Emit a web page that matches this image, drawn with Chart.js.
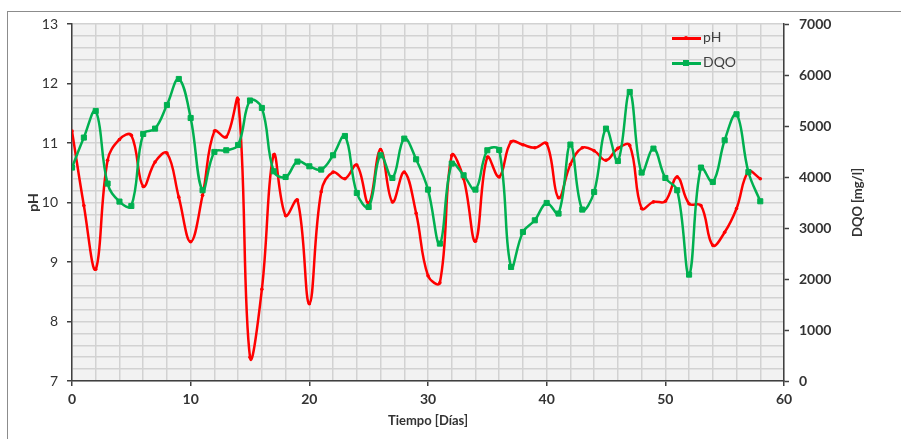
<!DOCTYPE html>
<html>
<head>
<meta charset="utf-8">
<script src="https://cdn.jsdelivr.net/npm/chart.js@4.4.1/dist/chart.umd.min.js"></script>
<style>
  html, body { margin: 0; padding: 0; background: #fff; }
  #wrap { position: relative; width: 901px; height: 439px; overflow: hidden; font-family: Lato, "Liberation Sans", sans-serif; }
  #frame { position: absolute; left: 7px; top: 11px; width: 1000px; height: 1000px; border-left: 1px solid #8c8c8c; border-top: 1px solid #8c8c8c; }
  canvas { position: absolute; left: 0; top: 0; }
  .leg { position: absolute; left: 672px; width: 80px; height: 16px; font-size: 14px; color: #404040; }
  .leg .ln { position: absolute; left: 0; top: 7px; width: 29px; height: 2.5px; }
  .leg .mk { position: absolute; }
  .leg .tx { position: absolute; left: 31px; top: -1px; line-height: 16px; }
</style>
</head>
<body>
<div id="wrap">
  <div id="frame"></div>
  <canvas id="phChart" width="901" height="439"></canvas>
  <div class="leg" style="top:30px">
    <span class="ln" style="background:#ff0000"></span>
    <span class="mk" style="left:12px;top:6px;width:4px;height:4px;border-radius:2px;background:#ff0000"></span>
    <span class="tx">pH</span>
  </div>
  <div class="leg" style="top:55px">
    <span class="ln" style="background:#00b050"></span>
    <span class="mk" style="left:11px;top:5px;width:6px;height:6px;background:#00b050"></span>
    <span class="tx">DQO</span>
  </div>
</div>
<script>
// tiempo en dias
const days = [0, 1, 2, 3, 4, 5, 6, 7, 8, 9, 10, 11, 12, 13, 14, 15, 16, 17, 18, 19,
  20, 21, 22, 23, 24, 25, 26, 27, 28, 29, 30, 31, 32, 33, 34, 35, 36, 37, 38, 39,
  40, 41, 42, 43, 44, 45, 46, 47, 48, 49, 50, 51, 52, 53, 54, 55, 56, 57, 58];

const phValues = [11.20, 9.95, 8.88, 10.71, 11.06, 11.13, 10.27, 10.68, 10.83, 10.09,
  9.34, 10.12, 11.20, 11.10, 11.73, 7.40, 8.54, 10.80, 9.78, 10.04,
  8.30, 10.18, 10.51, 10.40, 10.63, 9.99, 10.89, 10.01, 10.51, 9.82,
  8.77, 8.65, 10.79, 10.40, 9.35, 10.76, 10.43, 11.02, 10.97, 10.92,
  10.99, 10.08, 10.64, 10.92, 10.87, 10.71, 10.91, 10.96, 9.90, 10.01,
  10.02, 10.43, 9.98, 9.95, 9.28, 9.50, 9.90, 10.52, 10.40];

const dqoValues = [4185, 4773, 5295, 3871, 3518, 3432, 4844, 4949, 5412, 5922,
  5157, 3740, 4491, 4524, 4628, 5500, 5354, 4112, 4000, 4302,
  4210, 4145, 4426, 4804, 3687, 3412, 4426, 3981, 4753, 4347,
  3753, 2694, 4263, 4034, 3753, 4524, 4530, 2236, 2922, 3151,
  3491, 3283, 4636, 3361, 3706, 4949, 4314, 5667, 4087, 4557,
  3981, 3740, 2086, 4185, 3902, 4720, 5230, 4098, 3524];

const xTitle = "Tiempo [Días]";
const yTitle = "pH";
const y2Title = "DQO [mg/l]";

const gridColor = "#d2d2d2";
const axisColor = "#404040";
const textColor = "#333333";

function isWhole(v, step) {
  const r = v / step;
  return Math.abs(r - Math.round(r)) < 1e-6;
}

// fondo gris del area de trazado
const plotBackground = {
  id: "plotBackground",
  beforeDraw(chart) {
    const a = chart.chartArea;
    const ctx = chart.ctx;
    ctx.save();
    ctx.fillStyle = "#f2f2f2";
    ctx.fillRect(a.left, a.top, a.right - a.left, a.bottom - a.top);
    ctx.restore();
  }
};

// titulo del eje derecho, leido de abajo hacia arriba como en Excel
const rightTitle = {
  id: "rightTitle",
  afterDraw(chart) {
    const s = chart.scales.y2;
    const ctx = chart.ctx;
    ctx.save();
    ctx.translate(s.right - 12, (chart.chartArea.top + chart.chartArea.bottom) / 2);
    ctx.rotate(-Math.PI / 2);
    ctx.font = "bold 13px Lato, 'Liberation Sans', sans-serif";
    ctx.fillStyle = textColor;
    ctx.textAlign = "center";
    ctx.textBaseline = "middle";
    ctx.fillText(y2Title, 0, 0);
    ctx.restore();
  }
};

const ctx = document.getElementById("phChart").getContext("2d");
new Chart(ctx, {
  type: "line",
  data: {
    datasets: [
      {
        label: "pH",
        data: days.map((d, i) => ({ x: d, y: phValues[i] })),
        borderColor: "#ff0000",
        backgroundColor: "#ff0000",
        borderWidth: 2.5,
        pointRadius: 1.8,
        pointBorderWidth: 0,
        tension: 0.4,
        yAxisID: "y",
        order: 1,
      },
      {
        label: "DQO",
        data: days.map((d, i) => ({ x: d, y: dqoValues[i] })),
        borderColor: "#00b050",
        backgroundColor: "#00b050",
        borderWidth: 2.5,
        pointStyle: "rect",
        pointRadius: 3.6,
        pointBorderWidth: 1,
        tension: 0.4,
        yAxisID: "y2",
        order: 0,
      },
    ],
  },
  options: {
    responsive: false,
    animation: false,
    devicePixelRatio: 1,
    layout: { padding: { left: 21, right: 31, top: 24, bottom: 6 } },
    plugins: {
      legend: { display: false },
      tooltip: { enabled: false },
    },
    font: { family: "Lato, 'Liberation Sans', sans-serif" },
    scales: {
      x: {
        type: "linear",
        min: 0,
        max: 60,
        afterFit: (s) => { s.height = 52; },
        ticks: {
          stepSize: 2,
          autoSkip: false,
          maxRotation: 0,
          padding: 5,
          color: textColor,
          font: { size: 14, weight: "bold" },
          callback: (v) => (isWhole(v, 10) ? String(Math.round(v)) : ""),
        },
        grid: {
          color: gridColor,
          lineWidth: 1.5,
          tickLength: 5,
          tickWidth: 1.5,
          tickColor: (c) => (c.tick && isWhole(c.tick.value, 10) ? axisColor : "transparent"),
        },
        border: { color: axisColor, width: 1.5 },
        title: {
          display: true,
          text: xTitle,
          color: textColor,
          font: { size: 13, weight: "bold" },
          padding: 4,
        },
      },
      y: {
        position: "left",
        min: 7,
        max: 13,
        afterFit: (s) => { s.width = 51; },
        ticks: {
          stepSize: 0.2,
          autoSkip: false,
          padding: 9,
          color: textColor,
          font: { size: 14 },
          callback: (v) => (isWhole(v, 1) ? String(Math.round(v)) : ""),
        },
        grid: {
          color: gridColor,
          lineWidth: 1.5,
          tickLength: 5,
          tickWidth: 1.5,
          tickColor: (c) => (c.tick && isWhole(c.tick.value, 1) ? axisColor : "transparent"),
        },
        border: { color: axisColor, width: 1.5 },
        title: {
          display: true,
          text: yTitle,
          color: textColor,
          font: { size: 14, weight: "bold" },
          padding: 4,
        },
      },
      y2: {
        position: "right",
        min: 0,
        max: 7000,
        afterFit: (s) => { s.width = 86; },
        ticks: {
          stepSize: 1000,
          autoSkip: false,
          padding: 10,
          color: textColor,
          font: { size: 14, weight: "bold" },
          callback: (v) => String(v),
        },
        grid: {
          drawOnChartArea: false,
          tickLength: 5,
          tickWidth: 1.5,
          tickColor: axisColor,
        },
        border: { color: axisColor, width: 1.5 },
      },
    },
  },
  plugins: [plotBackground, rightTitle],
});
</script>
</body>
</html>
